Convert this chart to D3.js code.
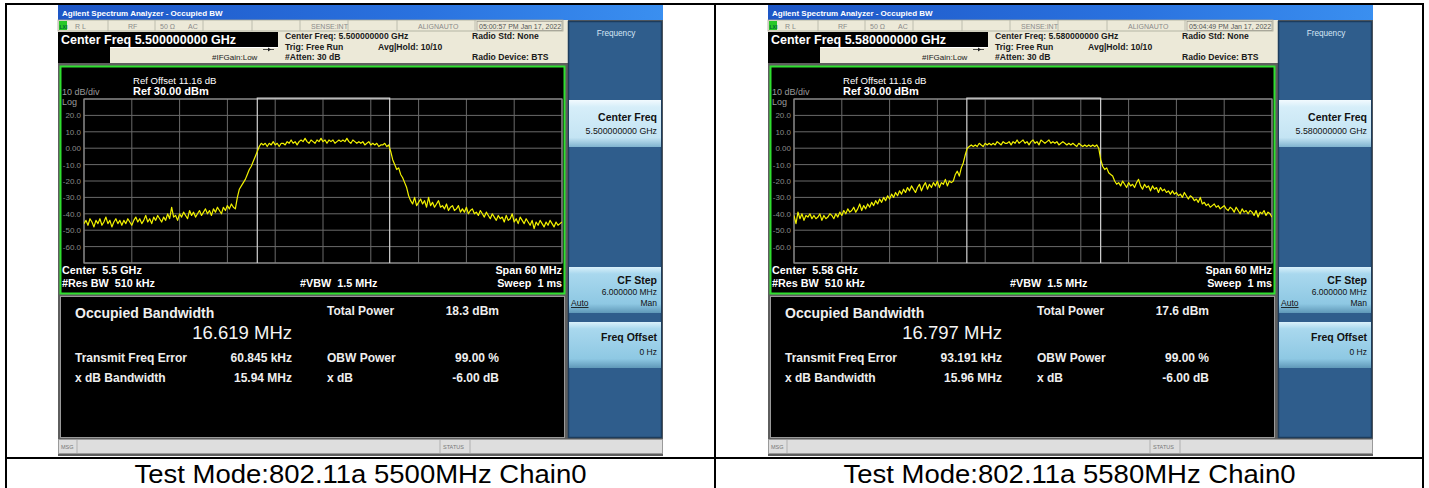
<!DOCTYPE html>
<html><head><meta charset="utf-8">
<script src="https://cdn.jsdelivr.net/npm/d3@7/dist/d3.min.js"></script>
<style>body{margin:0;background:#fff;} svg{display:block;font-family:"Liberation Sans",Arial,sans-serif;} text{white-space:pre;}</style>
</head><body><svg id="c" width="1429" height="488"></svg>
<script>
// ---------- data ----------
const sweepStartMHz = -30;
const sweepStepMHz = 0.25;
const trace5500 = [
-46,-44,-47,-43,-45,-48,-44,-46,-43,-47,
-45,-42,-46,-44,-48,-45,-43,-46,-44,-47,
-44,-46,-43,-45,-47,-44,-42,-45,-43,-46,
-44,-41,-45,-43,-46,-42,-44,-41,-43,-45,
-42,-44,-40,-43,-36,-42,-41,-44,-40,-42,
-39,-41,-43,-38,-41,-39,-42,-40,-38,-41,
-39,-37,-40,-38,-41,-37,-39,-36,-38,-40,
-36,-38,-35,-37,-34,-36,-37,-30,-25,-23,
-21,-19,-16,-13,-11,-8,-5,-2,1,3,
2,3,1,3,2,4,2,3,1,3,
3,2,4,3,5,3,4,2,4,5,
4,6,4,3,5,4,3,5,4,6,
4,5,3,5,4,5,3,4,5,4,
5,4,6,4,3,5,4,3,4,3,
4,2,3,4,2,3,2,3,1,2,
2,3,1,2,-2,-7,-10,-13,-12,-16,
-18,-21,-24,-29,-32,-34,-30,-35,-33,-31,
-34,-32,-36,-30,-35,-33,-36,-34,-32,-36,
-35,-37,-34,-38,-36,-35,-38,-37,-35,-39,
-37,-39,-36,-40,-38,-37,-40,-39,-41,-38,
-40,-42,-39,-41,-43,-40,-42,-44,-41,-43,
-42,-45,-41,-44,-43,-40,-45,-43,-46,-42,
-44,-46,-43,-45,-47,-44,-49,-45,-47,-44,
-46,-48,-45,-47,-44,-46,-48,-45,-47,-46,
-45];
const trace5580 = [
-41,-46,-39,-43,-40,-44,-41,-42,-40,-43,
-41,-43,-42,-40,-44,-41,-43,-42,-40,-41,
-43,-40,-42,-39,-41,-38,-40,-37,-39,-38,
-36,-39,-37,-34,-38,-35,-37,-34,-36,-33,
-35,-32,-34,-31,-33,-30,-32,-29,-31,-28,
-30,-27,-29,-26,-28,-25,-27,-24,-26,-23,
-25,-27,-24,-22,-26,-23,-21,-25,-22,-24,
-21,-23,-20,-24,-21,-22,-19,-23,-20,-21,
-20,-16,-14,-17,-12,-9,-4,0,1,2,
1,2,1,3,2,1,3,2,3,2,
3,2,4,3,2,4,3,3,4,2,
4,3,5,3,4,5,3,4,2,4,
5,3,4,2,5,4,3,4,5,3,
4,3,4,2,3,4,3,2,3,2,
3,2,1,3,2,1,2,1,2,1,
2,1,2,0,-7,-11,-13,-12,-15,-16,
-17,-20,-22,-21,-23,-20,-22,-24,-21,-23,
-22,-24,-21,-19,-23,-25,-22,-24,-23,-26,
-23,-25,-24,-27,-24,-26,-25,-27,-26,-28,
-26,-28,-27,-29,-28,-30,-27,-29,-31,-29,
-30,-32,-31,-33,-30,-34,-33,-35,-34,-36,
-35,-34,-36,-35,-37,-36,-35,-37,-38,-36,
-37,-39,-36,-38,-40,-37,-39,-38,-40,-38,
-39,-41,-38,-42,-39,-40,-38,-41,-39,-40,
-42];
const traces = [trace5500, trace5580];
const yTickValues = [20,10,0,-10,-20,-30,-40,-50,-60];
const yTickLabels = ["20.0","10.0","0.00","-10.0","-20.0","-30.0","-40.0","-50.0","-60.0"];
const centerFreqLabels = ["5.500000000 GHz","5.580000000 GHz"];
const centerShort = ["5.5 GHz","5.58 GHz"];
const obwMHz = [16.619, 16.797];
const obwLabels = ["16.619 MHz","16.797 MHz"];
const freqErrorKHz = [60.845, 93.191];
const freqErrorLabels = ["60.845 kHz","93.191 kHz"];
const totalPowerLabels = ["18.3 dBm","17.6 dBm"];
const xdbBwLabels = ["15.94 MHz","15.96 MHz"];
const timestamps = ["05:00:57 PM Jan 17, 2022","05:04:49 PM Jan 17, 2022"];
const captions = ["Test Mode:802.11a 5500MHz Chain0","Test Mode:802.11a 5580MHz Chain0"];
const screenOffsets = [0, 710];

// ---------- drawing ----------
const svg = d3.select("#c");
const defs = svg.append("defs");
function lg(id, stops, vertical){
  const g = defs.append("linearGradient").attr("id", id)
    .attr("x1",0).attr("y1",0).attr("x2",vertical?0:1).attr("y2",vertical?1:0);
  stops.forEach(s=>g.append("stop").attr("offset",s[0]).attr("stop-color",s[1]));
}
lg("tb", [[0,"#1d56c6"],[0.6,"#2a72df"],[1,"#3a8ff0"]], false);
lg("btn1", [[0,"#f2fafe"],[0.15,"#d6eef9"],[0.8,"#c4e4f3"],[1,"#7fb3cf"]], true);
lg("btn2", [[0,"#d9f0fa"],[0.15,"#a9d8ee"],[0.8,"#8ec8e3"],[1,"#5f98b8"]], true);

const x = d3.scaleLinear().domain([-30,30]).range([84,562]);
const y = d3.scaleLinear().domain([-70,30]).range([263,99]);

function txt(g, t, xx, yy, size, opts={}){
  return g.append("text").attr("x",xx).attr("y",yy).text(t)
    .attr("font-size",size)
    .attr("font-weight",opts.bold?"bold":"normal")
    .attr("fill",opts.fill||"#fff")
    .attr("text-anchor",opts.anchor||"start");
}

function drawScreen(i){
  const g = svg.append("g").attr("transform",`translate(${screenOffsets[i]},0)`);
  // window background
  g.append("rect").attr("x",58).attr("y",5).attr("width",605).attr("height",451).attr("fill","#5e5e5e");
  // title bar
  g.append("rect").attr("x",58).attr("y",5).attr("width",605).attr("height",15).attr("fill","url(#tb)");
  txt(g,"Agilent Spectrum Analyzer - Occupied BW",62,16,8,{bold:true});
  // header area
  g.append("rect").attr("x",58).attr("y",20).attr("width",510).attr("height",43).attr("fill","#ece9d8");
  g.append("rect").attr("x",58).attr("y",20).attr("width",505).attr("height",11).attr("fill","none").attr("stroke","#a9a79a").attr("stroke-width",0.8);
  [108,155,203,252,300,348,397,475].forEach(xx=>
    g.append("line").attr("x1",xx).attr("x2",xx).attr("y1",20).attr("y2",31).attr("stroke","#b3b1a4").attr("stroke-width",0.8));
  g.append("rect").attr("x",477).attr("y",21.5).attr("width",85).attr("height",9).attr("fill","none").attr("stroke","#8f8d82").attr("stroke-width",0.6);
  g.append("rect").attr("x",59).attr("y",21).attr("width",8).attr("height",9).attr("fill","#28c828");
  txt(g,"LXI",59.5,28.5,5,{fill:"#063",bold:true});
  const st = {fill:"#8a8a8a"};
  txt(g,"R L",75,29,7,st); txt(g,"RF",128,29,7,st); txt(g,"50 Ω",160,29,7,st); txt(g,"AC",188,29,7,st);
  txt(g,"SENSE:INT",311,29,7,st); txt(g,"ALIGNAUTO",418,29,7,st); txt(g,timestamps[i],479,29,7,{fill:"#555"});
  // center freq box
  g.append("rect").attr("x",58).attr("y",32).attr("width",220).attr("height",15).attr("fill","#000");
  g.append("rect").attr("x",58).attr("y",47).attr("width",52).attr("height",16).attr("fill","#000");
  g.append("line").attr("x1",110).attr("x2",278).attr("y1",47.5).attr("y2",47.5).attr("stroke","#fff").attr("stroke-width",1);
  txt(g,"Center Freq "+centerFreqLabels[i],61,44,12.5,{bold:true});
  const hd = {bold:true, fill:"#1a1a1a"};
  txt(g,"Center Freq: "+centerFreqLabels[i],285,39,8.6,hd);
  txt(g,"Trig: Free Run",285,50,8.6,hd);
  txt(g,"#Atten: 30 dB",285,60,8.6,hd);
  txt(g,"Avg|Hold: 10/10",378,50,8.6,hd);
  txt(g,"Radio Std: None",472,39,8.6,hd);
  txt(g,"Radio Device: BTS",472,60,8.6,hd);
  txt(g,"#IFGain:Low",212,60,8,{fill:"#222"});
  g.append("line").attr("x1",263).attr("x2",274).attr("y1",49.5).attr("y2",49.5).attr("stroke","#222").attr("stroke-width",0.8);
  g.append("path").attr("d","M268,47.5L271,49.5L268,51.5Z").attr("fill","#222");

  // graph frame
  g.append("rect").attr("x",60.5).attr("y",66.5).attr("width",504).attr("height",227)
    .attr("fill","#000").attr("stroke","#2fe02f").attr("stroke-width",2);
  txt(g,"Ref Offset 11.16 dB",133,84,9.6);
  txt(g,"10 dB/div",62,95,9,{fill:"#9a9a9a"});
  txt(g,"Ref 30.00 dBm",133,95,11,{bold:true});
  txt(g,"Log",62,105,9,{fill:"#9a9a9a"});
  // grid
  const grid = g.append("g").attr("stroke","#6a6a6a").attr("stroke-width",1);
  d3.range(-30,31,6).forEach(f=>grid.append("line").attr("x1",x(f)).attr("x2",x(f)).attr("y1",y(30)).attr("y2",y(-70)));
  d3.range(-70,31,10).forEach(v=>grid.append("line").attr("x1",x(-30)).attr("x2",x(30)).attr("y1",y(v)).attr("y2",y(v)));
  g.append("rect").attr("x",x(-30)).attr("y",y(30)).attr("width",x(30)-x(-30)).attr("height",y(-70)-y(30))
    .attr("fill","none").attr("stroke","#8a8a8a").attr("stroke-width",1.2);
  yTickValues.forEach((v,k)=>txt(g,yTickLabels[k],81,y(v)+3,8,{fill:"#8a8a8a",anchor:"end"}));
  // OBW markers
  const err = freqErrorKHz[i]/1000;
  const lo = x(err - obwMHz[i]/2), hi = x(err + obwMHz[i]/2);
  const ob = g.append("g").attr("stroke","#d4d4d4").attr("stroke-width",1.2).attr("fill","none");
  ob.append("path").attr("d",`M${lo},${y(-70)}V${y(30)-0.8}H${hi}V${y(-70)}`);
  // trace
  const clipId = "clip"+i;
  defs.append("clipPath").attr("id",clipId).append("rect")
    .attr("x",x(-30)).attr("y",y(30)).attr("width",x(30)-x(-30)).attr("height",y(-70)-y(30));
  const line = d3.line().x((d,k)=>x(sweepStartMHz + k*sweepStepMHz)).y(d=>y(d));
  g.append("path").datum(traces[i]).attr("d",line).attr("fill","none")
    .attr("stroke","#f2f200").attr("stroke-width",1.2).attr("stroke-linejoin","round")
    .attr("clip-path",`url(#${clipId})`);
  // bottom annotations
  txt(g,"Center  "+centerShort[i],62,274,10.8,{bold:true});
  txt(g,"#Res BW  510 kHz",62,287,10.8,{bold:true});
  txt(g,"#VBW  1.5 MHz",300,287,10.8,{bold:true});
  txt(g,"Span 60 MHz",562,274,10.8,{bold:true,anchor:"end"});
  txt(g,"Sweep  1 ms",562,287,10.8,{bold:true,anchor:"end"});

  // measurement panel
  g.append("rect").attr("x",60.5).attr("y",296.5).attr("width",504).attr("height",141)
    .attr("fill","#000").attr("stroke","#9a9a9a").attr("stroke-width",1);
  txt(g,"Occupied Bandwidth",75,318,14,{bold:true, fill:"#f0f0f0"});
  txt(g,obwLabels[i],292,339,18.5,{anchor:"end", fill:"#f4f4f4"});
  txt(g,"Total Power",327,315,12,{bold:true, fill:"#eee"});
  txt(g,totalPowerLabels[i],499,315,12,{bold:true,anchor:"end", fill:"#eee"});
  txt(g,"Transmit Freq Error",75,362,12,{bold:true, fill:"#eee"});
  txt(g,freqErrorLabels[i],292,362,12,{bold:true,anchor:"end", fill:"#eee"});
  txt(g,"OBW Power",327,362,12,{bold:true, fill:"#eee"});
  txt(g,"99.00 %",499,362,12,{bold:true,anchor:"end", fill:"#eee"});
  txt(g,"x dB Bandwidth",75,382,12,{bold:true, fill:"#eee"});
  txt(g,xdbBwLabels[i],292,382,12,{bold:true,anchor:"end", fill:"#eee"});
  txt(g,"x dB",327,382,12,{bold:true, fill:"#eee"});
  txt(g,"-6.00 dB",499,382,12,{bold:true,anchor:"end", fill:"#eee"});

  // MSG bar
  g.append("rect").attr("x",58.5).attr("y",439.5).attr("width",604).attr("height",14)
    .attr("fill","#dedede").attr("stroke","#9a9a9a").attr("stroke-width",1);
  [77,440,470].forEach(xx=>g.append("line").attr("x1",xx).attr("x2",xx).attr("y1",440).attr("y2",453).attr("stroke","#b0b0b0"));
  txt(g,"MSG",61,449,5.5,{fill:"#777"});
  txt(g,"STATUS",443,449,5.5,{fill:"#777"});

  // softkey panel
  g.append("rect").attr("x",568.5).attr("y",21.5).attr("width",93).attr("height",416)
    .attr("fill","#2f5d8c").attr("stroke","#1d3c5c").attr("stroke-width",1.5);
  txt(g,"Frequency",616,36,8.2,{fill:"#d6e6f6",anchor:"middle"});
  g.append("rect").attr("x",569).attr("y",100).attr("width",92).attr("height",47).attr("fill","url(#btn1)");
  txt(g,"Center Freq",657,121,10.5,{bold:true,fill:"#111",anchor:"end"});
  txt(g,centerFreqLabels[i],657,134,8.8,{fill:"#111",anchor:"end"});
  g.append("rect").attr("x",569).attr("y",267).attr("width",92).attr("height",46).attr("fill","url(#btn2)");
  txt(g,"CF Step",657,284,10.5,{bold:true,fill:"#111",anchor:"end"});
  txt(g,"6.000000 MHz",657,295,8.5,{fill:"#111",anchor:"end"});
  txt(g,"Auto",571,306,8.5,{fill:"#111"}).attr("text-decoration","underline");
  txt(g,"Man",657,306,8.5,{fill:"#111",anchor:"end"});
  g.append("rect").attr("x",569).attr("y",322).attr("width",92).attr("height",46).attr("fill","url(#btn2)");
  txt(g,"Freq Offset",657,341,10.5,{bold:true,fill:"#111",anchor:"end"});
  txt(g,"0 Hz",657,355,8.5,{fill:"#111",anchor:"end"});

  // caption
  const cx = i===0 ? 360.5 : 1069.5;
  txt(svg,captions[i],cx,482.5,25.5,{fill:"#000",anchor:"middle"})
    .attr("textLength",452).attr("lengthAdjust","spacingAndGlyphs");
}
drawScreen(0);
drawScreen(1);

// table borders
svg.append("rect").attr("x",6).attr("y",4).attr("width",1417).attr("height",520)
  .attr("fill","none").attr("stroke","#000").attr("stroke-width",2);
svg.append("line").attr("x1",715).attr("x2",715).attr("y1",4).attr("y2",488).attr("stroke","#000").attr("stroke-width",2);
svg.append("line").attr("x1",6).attr("x2",1423).attr("y1",458).attr("y2",458).attr("stroke","#000").attr("stroke-width",2);
</script></body></html>
